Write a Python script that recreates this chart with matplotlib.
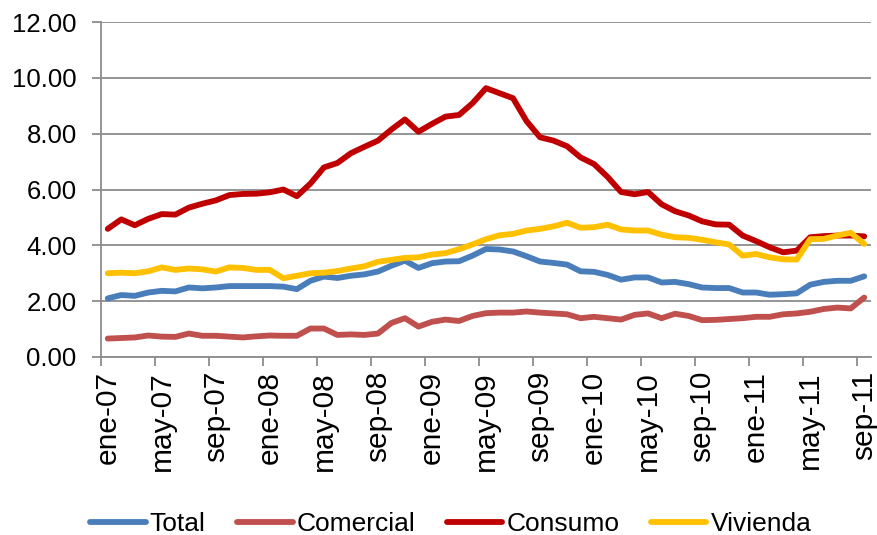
import matplotlib.pyplot as plt
import numpy as np
import matplotlib.ticker as ticker

plt.rcParams['font.family'] = ['Liberation Sans', 'DejaVu Sans']

# monthly, ene-07 .. sep-11
months = ['ene', 'feb', 'mar', 'abr', 'may', 'jun', 'jul', 'ago', 'sep', 'oct', 'nov', 'dic']
labels = [f'{months[i % 12]}-{7 + i // 12:02d}' for i in range(57)]

total = [2.10, 2.22, 2.19, 2.31, 2.37, 2.35, 2.49, 2.46, 2.49, 2.54, 2.54, 2.54, 2.54, 2.52, 2.43,
         2.73, 2.88, 2.83, 2.91, 2.96, 3.06, 3.27, 3.45, 3.19, 3.36, 3.42, 3.43, 3.63, 3.87, 3.85,
         3.78, 3.61, 3.42, 3.37, 3.31, 3.07, 3.05, 2.94, 2.77, 2.85, 2.85, 2.67, 2.69, 2.61, 2.49,
         2.47, 2.47, 2.31, 2.31, 2.23, 2.25, 2.28, 2.59, 2.69, 2.73, 2.73, 2.89]
comercial = [0.66, 0.68, 0.70, 0.77, 0.73, 0.72, 0.84, 0.76, 0.76, 0.73, 0.70, 0.74, 0.77, 0.76, 0.76,
             1.02, 1.02, 0.79, 0.81, 0.79, 0.84, 1.22, 1.39, 1.09, 1.26, 1.34, 1.29, 1.47, 1.57, 1.59,
             1.59, 1.63, 1.59, 1.56, 1.53, 1.39, 1.44, 1.39, 1.34, 1.51, 1.56, 1.39, 1.55, 1.47, 1.32,
             1.33, 1.36, 1.39, 1.44, 1.44, 1.53, 1.56, 1.62, 1.72, 1.77, 1.74, 2.13]
consumo = [4.59, 4.93, 4.72, 4.95, 5.12, 5.10, 5.35, 5.49, 5.61, 5.80, 5.84, 5.85, 5.90, 6.00, 5.76,
           6.21, 6.79, 6.95, 7.30, 7.53, 7.75, 8.15, 8.51, 8.07, 8.35, 8.61, 8.67, 9.09, 9.63, 9.45,
           9.27, 8.45, 7.87, 7.75, 7.55, 7.15, 6.91, 6.45, 5.91, 5.83, 5.91, 5.47, 5.22, 5.07, 4.86,
           4.75, 4.74, 4.35, 4.15, 3.93, 3.75, 3.81, 4.29, 4.33, 4.35, 4.35, 4.32]
vivienda = [3.00, 3.02, 3.00, 3.07, 3.21, 3.12, 3.17, 3.14, 3.06, 3.21, 3.19, 3.12, 3.12, 2.82, 2.91,
            3.00, 3.02, 3.08, 3.17, 3.25, 3.41, 3.48, 3.55, 3.57, 3.67, 3.72, 3.86, 4.03, 4.22, 4.36,
            4.41, 4.53, 4.59, 4.68, 4.81, 4.63, 4.65, 4.74, 4.57, 4.53, 4.53, 4.38, 4.29, 4.27, 4.20,
            4.11, 4.03, 3.63, 3.69, 3.57, 3.50, 3.49, 4.22, 4.23, 4.35, 4.45, 4.05]

series = [('Total', total, '#4A7EBB'), ('Comercial', comercial, '#C0504D'),
          ('Consumo', consumo, '#C00000'), ('Vivienda', vivienda, '#FFC000')]

x = np.arange(len(labels))

fig = plt.figure(figsize=(8.77, 5.35), dpi=100)
ax = fig.add_axes([101/877, 1 - 357/535, 770/877, 335/535])

for name, vals, col in series:
    ax.plot(x, vals, color=col, lw=4.2, label=name, solid_joinstyle='round', solid_capstyle='round')

ax.set_xlim(-0.5, len(labels) - 0.5)
ax.set_ylim(0, 12)
ax.yaxis.set_major_locator(ticker.MultipleLocator(2))
ax.yaxis.set_major_formatter(ticker.FormatStrFormatter('%.2f'))
ax.grid(axis='y', color='#8C8C8C', lw=1.3)
ax.set_axisbelow(True)

ax.set_xticks(x[::4])
ax.set_xticklabels(labels[::4], rotation=90)
ax.set_xticks(np.arange(-0.5, len(labels), 4), minor=True)
ax.tick_params(axis='x', which='major', length=0, pad=10, labelsize=21.5)
ax.tick_params(axis='x', which='minor', length=6.5, width=1.3, color='#8C8C8C')
ax.tick_params(axis='y', length=6.5, width=1.3, color='#8C8C8C', pad=11, labelsize=18.5)

for s in ['top', 'right']:
    ax.spines[s].set_visible(False)
for s in ['left', 'bottom']:
    ax.spines[s].set_color('#8C8C8C')
    ax.spines[s].set_linewidth(1.3)

fig.legend(loc='center', bbox_to_anchor=(0.514, 0.021), ncol=4, frameon=False, fontsize=19,
           handlelength=2.1, handletextpad=0.15, columnspacing=1.2, borderpad=0)

fig.savefig('out.png', dpi=100)
